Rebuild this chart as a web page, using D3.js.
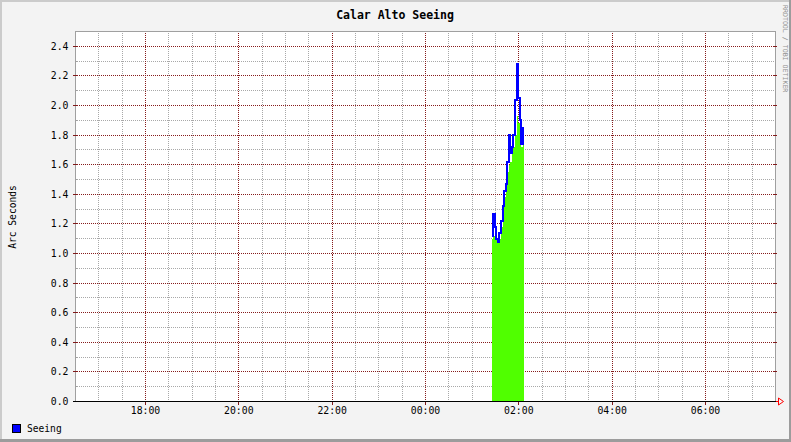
<!DOCTYPE html>
<html><head><meta charset="utf-8">
<script src="https://cdn.jsdelivr.net/npm/d3@7"></script>
<style>
html,body{margin:0;padding:0;background:#f3f3f3;}
svg{display:block;}
text{font-family:"DejaVu Sans Mono",monospace;}
line,rect{shape-rendering:crispEdges;}
</style></head>
<body>
<svg id="c" width="791" height="442"></svg>
<script>
// ---- data ----
const title = "Calar Alto Seeing";
const yLabel = "Arc Seconds";
const seriesName = "Seeing";
const creditText = "RRDTOOL / TOBI OETIKER";
const startTime = "16:30";   // day 1
const endTime = "07:30";     // day 2
const xTickLabels = ["18:00","20:00","22:00","00:00","02:00","04:00","06:00"];
const yTickLabels = ["0.0","0.2","0.4","0.6","0.8","1.0","1.2","1.4","1.6","1.8","2.0","2.2","2.4"];
const sampleTimes = ["01:25","01:27","01:29","01:31","01:33","01:35","01:37","01:39","01:41","01:43","01:45",
                     "01:47","01:49","01:51","01:53","01:55","01:57","01:59","02:01","02:03","02:05","02:07"];
const seeingLine = [1.12,1.27,1.18,1.10,1.08,1.14,1.22,1.32,1.42,1.47,1.62,
                    1.80,1.68,1.72,1.80,2.04,2.28,2.05,1.90,1.74,1.85];
const seeingArea = [1.10,1.12,1.12,1.10,1.08,1.10,1.18,1.28,1.38,1.45,1.55,
                    1.60,1.62,1.68,1.72,1.80,1.93,1.88,1.85,1.72,1.80];

// ---- helpers ----
function toDate(hhmm, dayHint){
  const [h,m] = hhmm.split(":").map(Number);
  const day = (dayHint!==undefined) ? dayHint : (h < 12 ? 2 : 1);
  return new Date(2000,0,day,h,m);
}
const svg = d3.select("#c");
const W = 791, H = 442;
const L = 75.5, R = 775.5, T = 31.5, B = 401.5;

// background & 3D border
svg.append("rect").attr("width",W).attr("height",H).attr("fill","#f3f3f3");
svg.append("rect").attr("x",0).attr("y",0).attr("width",W).attr("height",2).attr("fill","#cbcbcb");
svg.append("rect").attr("x",0).attr("y",0).attr("width",2).attr("height",H).attr("fill","#cbcbcb");
svg.append("rect").attr("x",0).attr("y",H-3).attr("width",W).attr("height",3).attr("fill","#9c9c9c");
svg.append("rect").attr("x",W-2).attr("y",0).attr("width",2).attr("height",H).attr("fill","#9c9c9c");

// plot area
svg.append("rect").attr("x",L).attr("y",T).attr("width",R-L).attr("height",B-T).attr("fill","#ffffff");

const x = d3.scaleTime().domain([toDate(startTime,1), toDate(endTime,2)]).range([L,R]);
const y = d3.scaleLinear().domain([0,2.5]).range([B,T]);

const px = v => Math.round(v-0.5)+0.5;

// minor grid
const minorX = d3.timeMinute.every(30).range(x.domain()[0], x.domain()[1]).filter(d=>d>x.domain()[0]);
const majorXDates = xTickLabels.map(s=>toDate(s));
const minorY = d3.range(1,25).map(i=>i/10);
const majorYVals = yTickLabels.map(Number);

const g = svg.append("g");
g.selectAll(".mx").data(minorX.filter(d=>d.getMinutes()!==0 || d.getHours()%2!==0)).enter().append("line")
  .attr("x1",d=>px(x(d))).attr("x2",d=>px(x(d))).attr("y1",T+1).attr("y2",B)
  .attr("stroke","#a8a8a8").attr("stroke-dasharray","1,1");
g.selectAll(".my").data(minorY.filter(v=>Math.round(v*10)%2!==0)).enter().append("line")
  .attr("y1",d=>px(y(d))).attr("y2",d=>px(y(d))).attr("x1",L+1).attr("x2",R)
  .attr("stroke","#a8a8a8").attr("stroke-dasharray","1,1");
// major grid
g.selectAll(".Mx").data(majorXDates).enter().append("line")
  .attr("x1",d=>px(x(d))).attr("x2",d=>px(x(d))).attr("y1",T+1).attr("y2",B)
  .attr("stroke","#861c1c").attr("stroke-dasharray","1,1");
g.selectAll(".My").data(majorYVals.filter(v=>v>0)).enter().append("line")
  .attr("y1",d=>px(y(d))).attr("y2",d=>px(y(d))).attr("x1",L+1).attr("x2",R)
  .attr("stroke","#861c1c").attr("stroke-dasharray","1,1");

// data
const areaData = seeingArea.map((v,i)=>({t:toDate(sampleTimes[i]), v}));
areaData.push({t:toDate(sampleTimes[seeingArea.length]), v:seeingArea[seeingArea.length-1]});
const lineData = seeingLine.map((v,i)=>({t:toDate(sampleTimes[i]), v}));
lineData.push({t:toDate(sampleTimes[seeingLine.length]), v:seeingLine[seeingLine.length-1]});

svg.append("path").datum(areaData)
  .attr("d", d3.area().curve(d3.curveStepAfter).x(d=>x(d.t)).y0(y(0)).y1(d=>y(d.v)))
  .attr("fill","#50ff00").attr("shape-rendering","crispEdges");
svg.append("path").datum(lineData)
  .attr("d", d3.line().curve(d3.curveStepAfter).x(d=>x(d.t)).y(d=>y(d.v)))
  .attr("fill","none").attr("stroke","#0000ff").attr("stroke-width",2).attr("shape-rendering","crispEdges");

// frame
svg.append("path").attr("d",`M${L},${B}V${T}H${R}V${B}`).attr("fill","none").attr("stroke","#a0a0a0").attr("shape-rendering","crispEdges");

// ticks
svg.selectAll(".yt").data(majorYVals).enter().append("line")
  .attr("x1",L-3).attr("x2",L+1).attr("y1",d=>px(y(d))).attr("y2",d=>px(y(d)))
  .attr("stroke","#801a1a");
svg.selectAll(".yt2").data(majorYVals.filter(v=>v>0)).enter().append("line")
  .attr("x1",R-2).attr("x2",R+1).attr("y1",d=>px(y(d))).attr("y2",d=>px(y(d)))
  .attr("stroke","#801a1a");
svg.selectAll(".ymt").data(minorY.filter(v=>Math.round(v*10)%2!==0)).enter().append("line")
  .attr("x1",L-1).attr("x2",L+1).attr("y1",d=>px(y(d))).attr("y2",d=>px(y(d)))
  .attr("stroke","#a0a0a0");
svg.selectAll(".xt").data(majorXDates).enter().append("line")
  .attr("x1",d=>px(x(d))).attr("x2",d=>px(x(d))).attr("y1",B-1).attr("y2",B+3)
  .attr("stroke","#801a1a");

// x axis line + arrow
svg.append("line").attr("x1",L-3).attr("x2",R+3).attr("y1",B).attr("y2",B).attr("stroke","#000").attr("stroke-width",1);
svg.append("path").attr("d",`M${R+3},${B-3.5}L${R+8},${B}L${R+3},${B+3.5}Z`).attr("fill","none").attr("stroke","#ff0000");
svg.append("line").attr("x1",R).attr("x2",R+3).attr("y1",B).attr("y2",B).attr("stroke","#ff0000");

// labels
svg.selectAll(".yl").data(yTickLabels).enter().append("text")
  .attr("x",L-7).attr("y",d=>y(+d)).attr("dy","0.35em").attr("text-anchor","end")
  .attr("font-size","9.8px").attr("fill","#000").text(d=>d);
svg.selectAll(".xl").data(xTickLabels).enter().append("text")
  .attr("x",d=>x(toDate(d))).attr("y",411).attr("dy","0.35em").attr("text-anchor","middle")
  .attr("font-size","9.8px").attr("fill","#000").text(d=>d);

svg.append("text").attr("x",395).attr("y",15).attr("dy","0.35em").attr("text-anchor","middle")
  .attr("font-size","11.5px").attr("font-weight","bold").attr("fill","#000").text(title);
svg.append("text").attr("transform","translate(13,217) rotate(-90)").attr("dy","0.35em").attr("text-anchor","middle")
  .attr("font-size","9.6px").attr("fill","#000").text(yLabel);
svg.append("text").attr("transform","translate(785.5,5) rotate(90)").attr("dy","0.35em").attr("text-anchor","start")
  .attr("font-size","6.6px").attr("fill","#909090").text(creditText);

// legend
svg.append("rect").attr("x",12.5).attr("y",424.5).attr("width",8).attr("height",8).attr("fill","#0000ff").attr("stroke","#000");
svg.append("text").attr("x",27).attr("y",429).attr("dy","0.35em").attr("font-size","9.6px").attr("fill","#000").text(seriesName);
</script>
</body></html>
